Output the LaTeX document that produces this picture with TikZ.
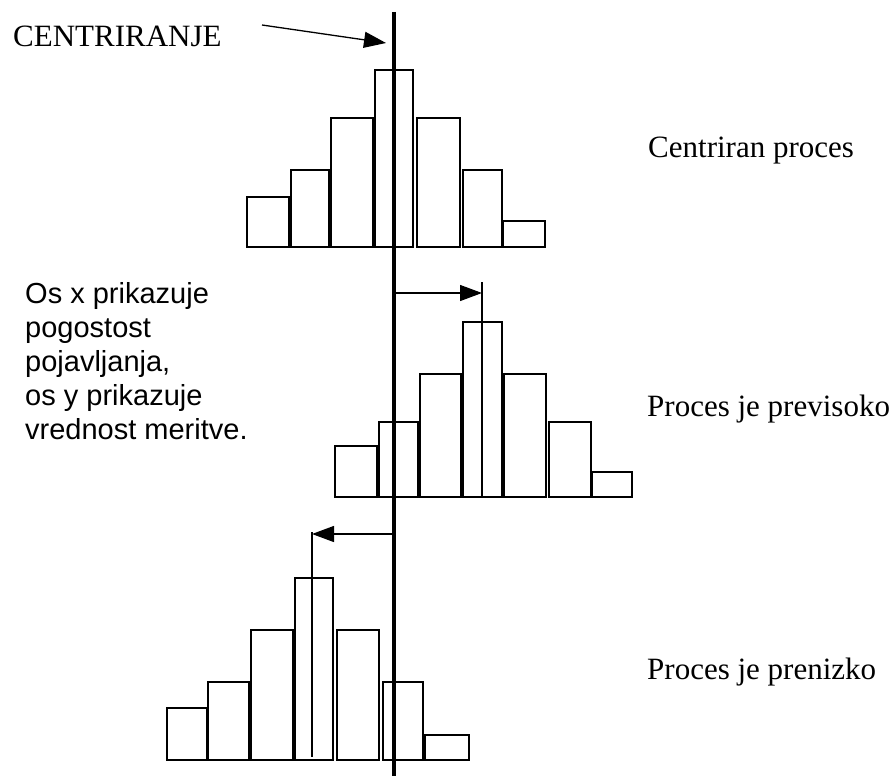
\documentclass[tikz,border=0pt]{standalone}
\usepackage{fontspec}
\setmainfont{Liberation Serif}
\newfontfamily\arialfont{Liberation Sans}
\usetikzlibrary{arrows.meta, positioning}

\begin{document}
\begin{tikzpicture}[x=1pt, y=-1pt,
  bar/.style={draw, line width=1.6pt},
  meanline/.style={line width=1.3pt},
  shiftarrow/.style={-{Triangle[length=22pt,width=16pt]}, line width=1.3pt},
  serlabel/.style={font=\fontsize{31}{34}\selectfont, inner sep=0pt, anchor=base west},
  note/.style={font=\arialfont\fontsize{29}{34}\selectfont, inner sep=0pt, anchor=north west, align=left}]
\useasboundingbox (0,0) rectangle (896,776);

\foreach \xa/\xb/\top in {247/289/197, 291/329/170, 331/373/118, 375/413/70, 417/460/118, 463/502/170, 503/545/221}
  \draw[bar] (\xa,247) rectangle (\xb,\top);
\foreach \xa/\xb/\top in {335/377/446, 379/418/422, 420/461/374, 463/502/322, 504/546/374, 549/591/422, 592/632/472}
  \draw[bar] (\xa,497) rectangle (\xb,\top);
\foreach \xa/\xb/\top in {167/207/708, 208/249/682, 251/293/630, 295/333/578, 337/379/630, 383/423/682, 425/469/735}
  \draw[bar] (\xa,760) rectangle (\xb,\top);

\coordinate (axtop) at (394,12);
\coordinate (axbot) at (394,776);
\draw[line width=3.6pt] (axtop) -- (axbot);

\coordinate (hightop) at (482,282);
\coordinate (highbot) at (482,497);
\draw[meanline] (hightop) -- (highbot);
\coordinate (lowtop) at (312,532);
\coordinate (lowbot) at (312,757);
\draw[meanline] (lowtop) -- (lowbot);

\coordinate (highstart) at (394,293);
\draw[shiftarrow] (highstart) -- (highstart -| hightop);
\coordinate (lowstart) at (394,534);
\draw[shiftarrow] (lowstart) -- (lowstart -| lowtop);

\node[serlabel] (centr) at (13,47) {CENTRIRANJE};
\coordinate (centrfrom) at (262,25);
\coordinate (centrto) at (386,43);
\draw[shiftarrow] (centrfrom) -- (centrto);

\node[serlabel] (centered) at (648,157) {Centriran proces};
\node[serlabel] (toohigh) at (647,416) {Proces je previsoko};
\node[serlabel] (toolow) at (647,679) {Proces je prenizko};

\node[note] (axes) at (25,282) {Os x prikazuje\\pogostost\\pojavljanja,\\os y prikazuje\\vrednost meritve.};
\end{tikzpicture}
\end{document}
